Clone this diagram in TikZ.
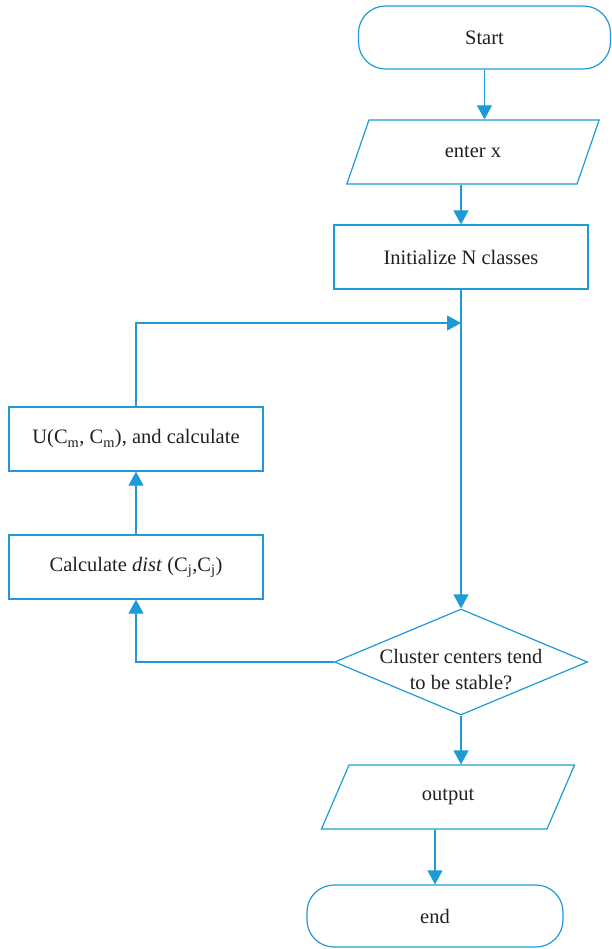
\documentclass[tikz,border=0pt]{standalone}
\usepackage{fontspec}
\setmainfont{Liberation Serif}
\usetikzlibrary{shapes.geometric,arrows.meta}
\definecolor{fb}{HTML}{1E9BD7}
\definecolor{tx}{HTML}{231F20}
\begin{document}
\begin{tikzpicture}[x=1pt,y=-1pt,
  txt/.style={font=\fontsize{20.5}{26}\selectfont, text=tx},
  base/.style={draw=fb, line width=1.2pt, txt},
  term/.style={base, rectangle, rounded corners=27pt, minimum width=252pt, minimum height=63pt},
  proc/.style={base, rectangle, minimum width=254pt, minimum height=64pt},
  io/.style={base, trapezium, trapezium left angle=70, trapezium right angle=110, trapezium stretches=true, minimum width=254pt, minimum height=64pt},
  dec/.style={base, diamond, minimum width=253pt, minimum height=106pt, inner sep=0pt},
  arr/.style={draw=fb, line width=1.2pt, -{Triangle[width=15pt,length=14pt]}},
  conn/.style={draw=fb, line width=1.2pt}]
\useasboundingbox (0,0) rectangle (611,949);
\node[term] (start) at (484.5,37.5) {Start};
\node[io] (enter) at (473,152) {enter x};
\node[proc] (init) at (461,257) {Initialize N classes};
\node[proc] (U) at (136,439) {U(C\textsubscript{m}, C\textsubscript{m}), and calculate};
\node[proc] (calc) at (136,567) {Calculate \textit{dist} (C\textsubscript{j},C\textsubscript{j})};
\node[dec, label={[txt, align=center, yshift=-8pt]center:Cluster centers tend\\to be stable?}] (dec) at (461,662) {};
\node[io] (out) at (448,797) {output};
\node[term, minimum width=256pt, minimum height=62pt] (end) at (435,916) {end};
\coordinate (join) at (461,323);
\draw[arr] (start.south) -- (start.south |- enter.north);
\draw[arr] (init.north |- enter.south) -- (init.north);
\draw[arr] (init.south) -- (dec.north);
\draw[arr] (U.north) |- (join);
\draw[arr] (calc.north) -- (U.south);
\draw[arr] (dec.west) -| (calc.south);
\draw[arr] (dec.south) -- (dec.south |- out.north);
\draw[arr] (end.north |- out.south) -- (end.north);
\end{tikzpicture}
\end{document}
